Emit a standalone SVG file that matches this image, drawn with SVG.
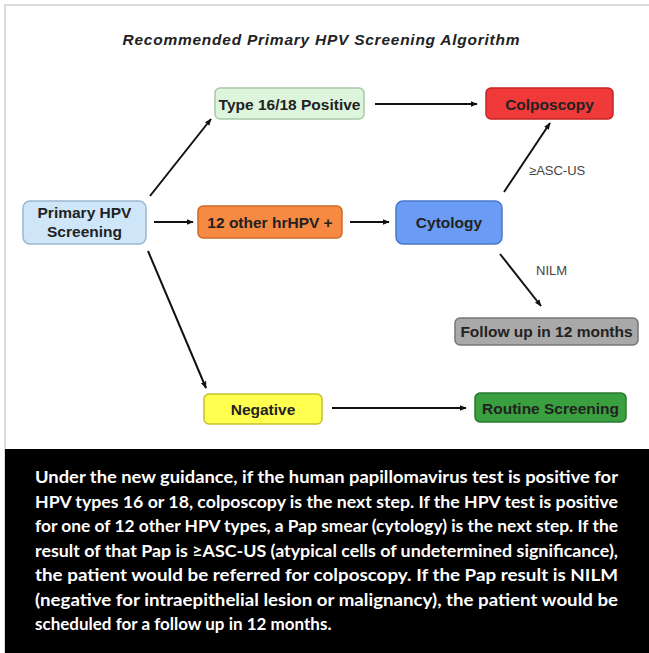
<svg xmlns="http://www.w3.org/2000/svg" width="649" height="653" viewBox="0 0 649 653">
<defs>
<marker id="ah" viewBox="0 0 10 10" refX="9" refY="5" markerWidth="7" markerHeight="7" orient="auto" markerUnits="userSpaceOnUse">
<path d="M0,1 L10,5 L0,9 z" fill="#111"/>
</marker>
</defs>
<style>
.n{stroke-width:1.5;}
.t{font-family:"Liberation Sans",Arial,sans-serif;font-weight:bold;font-size:15.5px;fill:#222;text-anchor:middle;}
.c{stroke:#111;stroke-width:2;fill:none;marker-end:url(#ah);}
.l{font-family:"Liberation Sans",Arial,sans-serif;font-size:13px;fill:#444;}
.p{font-family:Lato,"Open Sans",sans-serif;font-weight:bold;font-size:17px;fill:#fff;}
</style>
<rect x="0" y="0" width="649" height="653" fill="#fff"/>
<rect x="5" y="5" width="650" height="650" fill="none" stroke="#d0d0d0" stroke-width="1.5"/>
<text x="321" y="45" font-family="Liberation Sans,Arial,sans-serif" font-weight="bold" font-style="italic" font-size="15.5" fill="#222" text-anchor="middle" textLength="397" lengthAdjust="spacing">Recommended Primary HPV Screening Algorithm</text>

<g id="connectors">
<line class="c" x1="150" y1="196" x2="211" y2="119"/>
<line class="c" x1="154" y1="222" x2="193" y2="222"/>
<line class="c" x1="148" y1="251" x2="206" y2="388"/>
<line class="c" x1="375" y1="104" x2="477" y2="104"/>
<line class="c" x1="350" y1="222" x2="389" y2="222"/>
<line class="c" x1="504" y1="192" x2="550" y2="123"/>
<line class="c" x1="500" y1="254" x2="541" y2="306"/>
<line class="c" x1="332" y1="408" x2="466" y2="408"/>
<text class="l" x="529" y="175">≥ASC-US</text>
<text class="l" x="536" y="275">NILM</text>
</g>

<g id="type1618"><rect class="n" x="215" y="88" width="149" height="31" rx="5" fill="#dcf5dc" stroke="#a8c8a8"/><text class="t" x="289.5" y="109.5">Type 16/18 Positive</text></g>
<g id="colposcopy"><rect class="n" x="486" y="88" width="127" height="31" rx="5" fill="#f03a3a" stroke="#c42424"/><text class="t" x="549.5" y="109.5">Colposcopy</text></g>
<g id="primary"><rect class="n" x="23" y="201" width="123" height="43" rx="7" fill="#cfe6f9" stroke="#9ab8d0"/><text class="t" x="84.5" y="218">Primary HPV</text><text class="t" x="84.5" y="237">Screening</text></g>
<g id="other"><rect class="n" x="198" y="206" width="144" height="32" rx="5" fill="#f68a42" stroke="#d06a28"/><text class="t" x="270" y="227.5">12 other hrHPV +</text></g>
<g id="cytology"><rect class="n" x="396" y="201" width="106" height="43" rx="7" fill="#6a9cf6" stroke="#4a78c8"/><text class="t" x="449" y="227.5">Cytology</text></g>
<g id="followup"><rect class="n" x="455" y="318" width="183" height="27" rx="5" fill="#a9a9a9" stroke="#777"/><text class="t" x="546.5" y="337">Follow up in 12 months</text></g>
<g id="negative"><rect class="n" x="204" y="394" width="118" height="30" rx="5" fill="#ffff50" stroke="#c8c030"/><text class="t" x="263" y="414.5">Negative</text></g>
<g id="routine"><rect class="n" x="475" y="393" width="151" height="29" rx="5" fill="#3a9f3e" stroke="#2a7a2e"/><text class="t" x="550.5" y="413.5">Routine Screening</text></g>

<rect x="5" y="449" width="644" height="204" fill="#000"/>
<text class="p" x="35" y="483" textLength="583" lengthAdjust="spacingAndGlyphs">Under the new guidance, if the human papillomavirus test is positive for</text>
<text class="p" x="35" y="507.5" textLength="583" lengthAdjust="spacingAndGlyphs">HPV types 16 or 18, colposcopy is the next step. If the HPV test is positive</text>
<text class="p" x="35" y="532" textLength="583" lengthAdjust="spacingAndGlyphs">for one of 12 other HPV types, a Pap smear (cytology) is the next step. If the</text>
<text class="p" x="35" y="556.5" textLength="583" lengthAdjust="spacingAndGlyphs">result of that Pap is ≥ASC-US (atypical cells of undetermined significance),</text>
<text class="p" x="35" y="581" textLength="583" lengthAdjust="spacingAndGlyphs">the patient would be referred for colposcopy. If the Pap result is NILM</text>
<text class="p" x="35" y="605.5" textLength="583" lengthAdjust="spacingAndGlyphs">(negative for intraepithelial lesion or malignancy), the patient would be</text>
<text class="p" x="35" y="630">scheduled for a follow up in 12 months.</text>
</svg>
